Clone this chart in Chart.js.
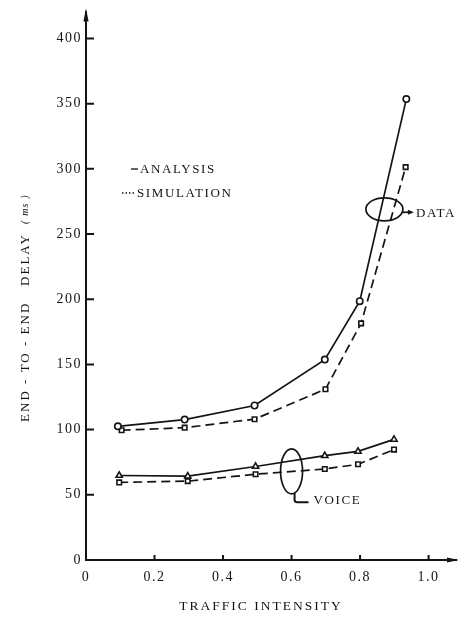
<!DOCTYPE html>
<html>
<head>
<meta charset="utf-8">
<script src="https://cdn.jsdelivr.net/npm/chart.js@4.4.0/dist/chart.umd.min.js"></script>
<style>
  html, body { margin: 0; padding: 0; background: #fff; }
  #wrap { width: 464px; height: 618px; }
</style>
</head>
<body>
<div id="wrap"><canvas id="c"></canvas></div>
<script>
// Traffic intensity (x) and end-to-end delay in ms (y)
const dataAnalysisX  = [0.093, 0.288, 0.492, 0.697, 0.799, 0.935];
const dataAnalysisY  = [102.5, 107.7, 118.5, 153.7, 198.5, 353.5];
const dataSimX       = [0.104, 0.288, 0.492, 0.699, 0.803, 0.933];
const dataSimY       = [99.5, 101.5, 108.0, 131.0, 181.5, 301.3];
const voiceAnalysisX = [0.097, 0.297, 0.495, 0.697, 0.794, 0.899];
const voiceAnalysisY = [64.8, 64.3, 71.7, 80.0, 83.3, 92.5];
const voiceSimX      = [0.097, 0.297, 0.495, 0.697, 0.794, 0.899];
const voiceSimY      = [59.5, 60.5, 65.8, 69.8, 73.4, 84.7];

const xTicks = [0, 0.2, 0.4, 0.6, 0.8, 1.0];
const yTicks = [0, 50, 100, 150, 200, 250, 300, 350, 400];
const xTickLabels = ['0', '0.2', '0.4', '0.6', '0.8', '1.0'];

const legendLabels = ['ANALYSIS', 'SIMULATION'];
const groupLabels = ['DATA', 'VOICE'];
const xTitle = 'TRAFFIC INTENSITY';
const yTitle = 'END - TO - END   DELAY';
const yUnit = '( ms )';

const INK = '#141414';
const SERIF = "'Liberation Serif', 'Times New Roman', serif";

const pts = (xs, ys) => xs.map((x, i) => ({ x, y: ys[i] }));

function series(xs, ys, shape, dashed) {
  return {
    data: pts(xs, ys),
    showLine: true,
    borderColor: INK,
    borderWidth: 1.7,
    borderDash: dashed ? [9, 5] : [],
    tension: 0,
    pointStyle: shape,
    pointRadius: shape === 'triangle' ? 3.6 : 3.2,
    pointBackgroundColor: '#fff',
    pointBorderColor: INK,
    pointBorderWidth: 1.6
  };
}

// Group labels: ellipse centres in data units, sizes in px
const groupMarks = [
  { label: groupLabels[0], x: 0.871, y: 269, rx: 18.5, ry: 11.5, kind: 'arrow' },
  { label: groupLabels[1], x: 0.600, y: 68,  rx: 11,   ry: 22.5, kind: 'hook' }
];

function spaced(ctx, px) { ctx.letterSpacing = px + 'px'; }

const decor = {
  id: 'decor',
  beforeUpdate(chart) { spaced(chart.ctx, 1.5); },
  beforeDraw(chart) { spaced(chart.ctx, 1.5); },
  afterDraw(chart) {
    const { ctx, chartArea: a, scales: { x, y } } = chart;
    ctx.save();
    ctx.strokeStyle = INK;
    ctx.fillStyle = INK;
    ctx.lineCap = 'butt';

    // inward tick marks
    ctx.lineWidth = 2;
    ctx.beginPath();
    yTicks.forEach(v => {
      if (!v) return;
      const py = y.getPixelForValue(v);
      ctx.moveTo(a.left, py); ctx.lineTo(a.left + 8, py);
    });
    xTicks.forEach(v => {
      if (!v) return;
      const px = x.getPixelForValue(v);
      ctx.moveTo(px, a.bottom); ctx.lineTo(px, a.bottom - 5);
    });
    ctx.stroke();

    // axis arrowheads
    ctx.beginPath();
    ctx.moveTo(a.left, a.top - 4);
    ctx.lineTo(a.left - 2.6, a.top + 9);
    ctx.lineTo(a.left + 2.6, a.top + 9);
    ctx.closePath();
    ctx.fill();
    ctx.beginPath();
    ctx.moveTo(a.right + 3, a.bottom);
    ctx.lineTo(a.right - 9, a.bottom - 2.4);
    ctx.lineTo(a.right - 9, a.bottom + 2.4);
    ctx.closePath();
    ctx.fill();

    // legend
    ctx.font = '13px ' + SERIF;
    spaced(ctx, 1.6);
    ctx.textBaseline = 'middle';
    ctx.textAlign = 'left';
    ctx.lineWidth = 1.3;
    ctx.beginPath();
    ctx.moveTo(131, 169); ctx.lineTo(138, 169);
    ctx.stroke();
    ctx.fillText(legendLabels[0], 140, 169.5);
    ctx.setLineDash([1.5, 2]);
    ctx.beginPath();
    ctx.moveTo(122, 193); ctx.lineTo(136, 193);
    ctx.stroke();
    ctx.setLineDash([]);
    ctx.fillText(legendLabels[1], 137, 193.5);

    // group ellipses with pointers
    ctx.lineWidth = 1.7;
    groupMarks.forEach(g => {
      const cx = x.getPixelForValue(g.x);
      const cy = y.getPixelForValue(g.y);
      ctx.beginPath();
      ctx.ellipse(cx, cy, g.rx, g.ry, 0, 0, Math.PI * 2);
      ctx.stroke();
      if (g.kind === 'arrow') {
        const ay = cy + 3;
        ctx.beginPath();
        ctx.moveTo(cx + g.rx - 0.5, ay); ctx.lineTo(cx + g.rx + 7, ay);
        ctx.stroke();
        ctx.beginPath();
        ctx.moveTo(cx + g.rx + 11, ay);
        ctx.lineTo(cx + g.rx + 5, ay - 2.5);
        ctx.lineTo(cx + g.rx + 5, ay + 2.5);
        ctx.closePath();
        ctx.fill();
        ctx.fillText(g.label, cx + g.rx + 13, ay + 1);
      } else {
        const hx = cx + 3;
        ctx.lineWidth = 2;
        ctx.beginPath();
        ctx.moveTo(hx, cy + g.ry - 1);
        ctx.lineTo(hx, cy + g.ry + 6);
        ctx.quadraticCurveTo(hx, cy + g.ry + 8.5, hx + 3, cy + g.ry + 8.5);
        ctx.lineTo(hx + 14, cy + g.ry + 8.5);
        ctx.stroke();
        ctx.fillText(g.label, hx + 19, cy + g.ry + 7);
      }
    });

    // axis titles
    ctx.font = '13.5px ' + SERIF;
    spaced(ctx, 2);
    ctx.textAlign = 'center';
    ctx.fillText(xTitle, 261, 606);

    ctx.translate(26, 308);
    ctx.rotate(-Math.PI / 2);
    ctx.textAlign = 'left';
    ctx.font = '13px ' + SERIF;
    spaced(ctx, 2);
    const w1 = ctx.measureText(yTitle).width;
    ctx.font = 'italic 10px ' + SERIF;
    spaced(ctx, 1.2);
    const w2 = ctx.measureText(yUnit).width;
    const gap = 9;
    const start = -(w1 + gap + w2) / 2;
    ctx.font = '13px ' + SERIF;
    spaced(ctx, 2);
    ctx.fillText(yTitle, start, 0);
    ctx.font = 'italic 10px ' + SERIF;
    spaced(ctx, 1.2);
    ctx.fillText(yUnit, start + w1 + gap, -1);

    ctx.restore();
    spaced(ctx, 1.5);
  }
};

new Chart(document.getElementById('c'), {
  type: 'scatter',
  data: {
    datasets: [
      series(dataAnalysisX, dataAnalysisY, 'circle', false),
      series(dataSimX, dataSimY, 'rect', true),
      series(voiceAnalysisX, voiceAnalysisY, 'triangle', false),
      series(voiceSimX, voiceSimY, 'rect', true)
    ]
  },
  options: {
    responsive: true,
    maintainAspectRatio: false,
    animation: false,
    layout: { padding: { top: 7, right: 8, bottom: 0, left: 0 } },
    plugins: { legend: { display: false }, tooltip: { enabled: false } },
    scales: {
      x: {
        type: 'linear',
        min: 0,
        max: 1.08,
        afterBuildTicks: s => { s.ticks = xTicks.map(v => ({ value: v })); },
        afterFit: s => { s.height = 58; },
        grid: { display: false, drawTicks: false },
        border: { display: true, color: INK, width: 2 },
        ticks: {
          color: INK,
          font: { family: SERIF, size: 14 },
          padding: 9,
          maxRotation: 0,
          autoSkip: false,
          callback: v => xTickLabels[xTicks.findIndex(t => Math.abs(t - v) < 1e-6)] ?? ''
        }
      },
      y: {
        type: 'linear',
        min: 0,
        max: 420,
        afterBuildTicks: s => { s.ticks = yTicks.map(v => ({ value: v })); },
        afterFit: s => { s.width = 86; },
        grid: { display: false, drawTicks: false },
        border: { display: true, color: INK, width: 2 },
        ticks: {
          color: INK,
          font: { family: SERIF, size: 14 },
          padding: 4,
          autoSkip: false,
          callback: v => String(v)
        }
      }
    }
  },
  plugins: [decor]
});
</script>
</body>
</html>
